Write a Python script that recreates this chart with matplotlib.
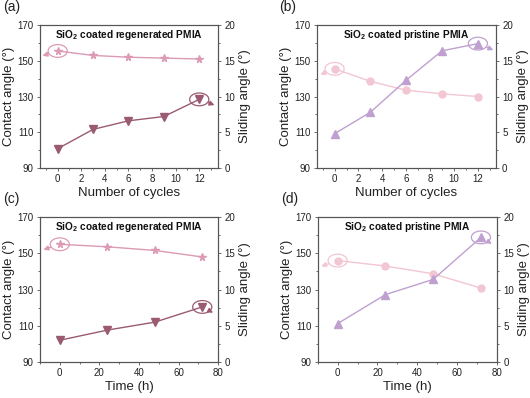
import numpy as np
import matplotlib.pyplot as plt
from matplotlib.path import Path
from matplotlib.ticker import AutoMinorLocator

plt.rcParams['font.family'] = ['Liberation Sans', 'DejaVu Sans']
plt.rcParams['mathtext.fontset'] = 'custom'
plt.rcParams['mathtext.rm'] = 'Liberation Sans'
plt.rcParams['mathtext.bf'] = 'Liberation Sans:bold'

# data
cycles = [0, 3, 6, 9, 12]
hours = [0, 24, 48, 72]

a_contact = [155.5, 153.0, 152.0, 151.5, 151.0]
a_sliding = [2.7, 5.4, 6.6, 7.2, 9.6]
b_contact = [145.5, 138.5, 133.5, 131.5, 130.0]
b_sliding = [4.8, 7.8, 12.3, 16.4, 17.4]
c_contact = [155.0, 153.6, 151.6, 148.0]
c_sliding = [3.0, 4.4, 5.5, 7.6]
d_contact = [146.0, 143.0, 138.7, 130.8]
d_sliding = [5.3, 9.3, 11.4, 17.2]

regen_title = r'SiO$_{\mathbf{2}}$ coated regenerated PMIA'
prist_title = r'SiO$_{\mathbf{2}}$ coated pristine PMIA'

# ellipse marker for the highlight rings
t = np.linspace(0, 2 * np.pi, 60)
ring = Path(np.column_stack([1.5 * np.cos(t), np.sin(t)]))

gray = '#555555'

fig = plt.figure(figsize=(5.3, 3.98), dpi=100)

panels = [
    # label, rect, x, contact, sliding, title, xlabel, xlim, ticks, colors, markers, arrow targets
    ('(a)', [0.0755, 0.578, 0.336, 0.359], cycles, a_contact, a_sliding, regen_title,
     'Number of cycles', (-1.5, 13.6), [0, 2, 4, 6, 8, 10, 12],
     '#dc9ab4', '#9a5a72', '*', 'v', (-1.3, 152.8), (13.3, 8.8)),
    ('(b)', [0.5975, 0.578, 0.338, 0.359], cycles, b_contact, b_sliding, prist_title,
     'Number of cycles', (-1.5, 13.5), [0, 2, 4, 6, 8, 10, 12],
     '#f2c6d2', '#bfa0d0', 'o', '^', (-1.2, 142.3), (13.3, 16.5)),
    ('(c)', [0.0755, 0.0905, 0.336, 0.364], hours, c_contact, c_sliding, regen_title,
     'Time (h)', (-10, 80), [0, 20, 40, 60, 80],
     '#dc9ab4', '#9a5a72', '*', 'v', (-8.3, 152.0), (77.5, 6.8)),
    ('(d)', [0.5995, 0.0905, 0.338, 0.364], hours, d_contact, d_sliding, prist_title,
     'Time (h)', (-10, 80), [0, 20, 40, 60, 80],
     '#f2c6d2', '#bfa0d0', 'o', '^', (-8.3, 142.8), (77.5, 16.3)),
]

for (lab, rect, x, ca, sa, title, xlabel, xlim, xticks,
     c_ca, c_sa, m_ca, m_sa, left_head, right_head) in panels:
    ax = fig.add_axes(rect)
    ax2 = ax.twinx()

    ax.plot(x, ca, color=c_ca, marker=m_ca, ms=5.5 if m_ca == '*' else 5, lw=1)
    ax2.plot(x, sa, color=c_sa, marker=m_sa, ms=5.5, lw=1)

    # rings on first contact point and last sliding point
    ax.scatter([x[0]], [ca[0]], marker=ring, s=190, facecolors='none',
               edgecolors=c_ca, linewidths=0.9, zorder=5)
    ax2.scatter([x[-1]], [sa[-1]], marker=ring, s=190, facecolors='none',
                edgecolors=c_sa, linewidths=0.9, zorder=5)

    # axis arrows
    ax.annotate('', xy=left_head, xytext=(x[0], ca[0]),
                arrowprops=dict(arrowstyle='-|>', color=c_ca, lw=1,
                                mutation_scale=7, shrinkA=7, shrinkB=0))
    ax2.annotate('', xy=right_head, xytext=(x[-1], sa[-1]),
                 arrowprops=dict(arrowstyle='-|>', color=c_sa, lw=1,
                                 mutation_scale=7, shrinkA=7, shrinkB=0))

    ax.set_xlim(*xlim)
    ax.set_xticks(xticks)
    ax.set_ylim(90, 170)
    ax.set_yticks([90, 110, 130, 150, 170])
    ax2.set_ylim(0, 20)
    ax2.set_yticks([0, 5, 10, 15, 20])
    ax.xaxis.set_minor_locator(AutoMinorLocator(2))
    ax.yaxis.set_minor_locator(AutoMinorLocator(2))
    ax2.yaxis.set_minor_locator(AutoMinorLocator(2))

    for a in (ax, ax2):
        for sp in a.spines.values():
            sp.set_color(gray)
            sp.set_linewidth(0.8)
        a.tick_params(which='both', direction='out', colors=gray,
                      labelcolor='#222222', labelsize=7, width=0.6, pad=2)
        a.tick_params(which='major', length=2.5)
        a.tick_params(which='minor', length=1.5)

    ax.set_xlabel(xlabel, fontsize=9.5, color='#222222', labelpad=2)
    ax.set_ylabel('Contact angle (°)', fontsize=9.5, color='#222222', labelpad=2)
    ax2.set_ylabel('Sliding angle (°)', fontsize=9.5, color='#222222', labelpad=3)
    ax.text(0.5, 0.93, title, transform=ax.transAxes, ha='center', va='center',
            fontsize=7.3, fontweight='bold', color='#111111')

    fig.text(rect[0] - 0.07, rect[1] + rect[3] + 0.045, lab, fontsize=10,
             color='#222222', va='center')

fig.savefig('out.png', dpi=100)
